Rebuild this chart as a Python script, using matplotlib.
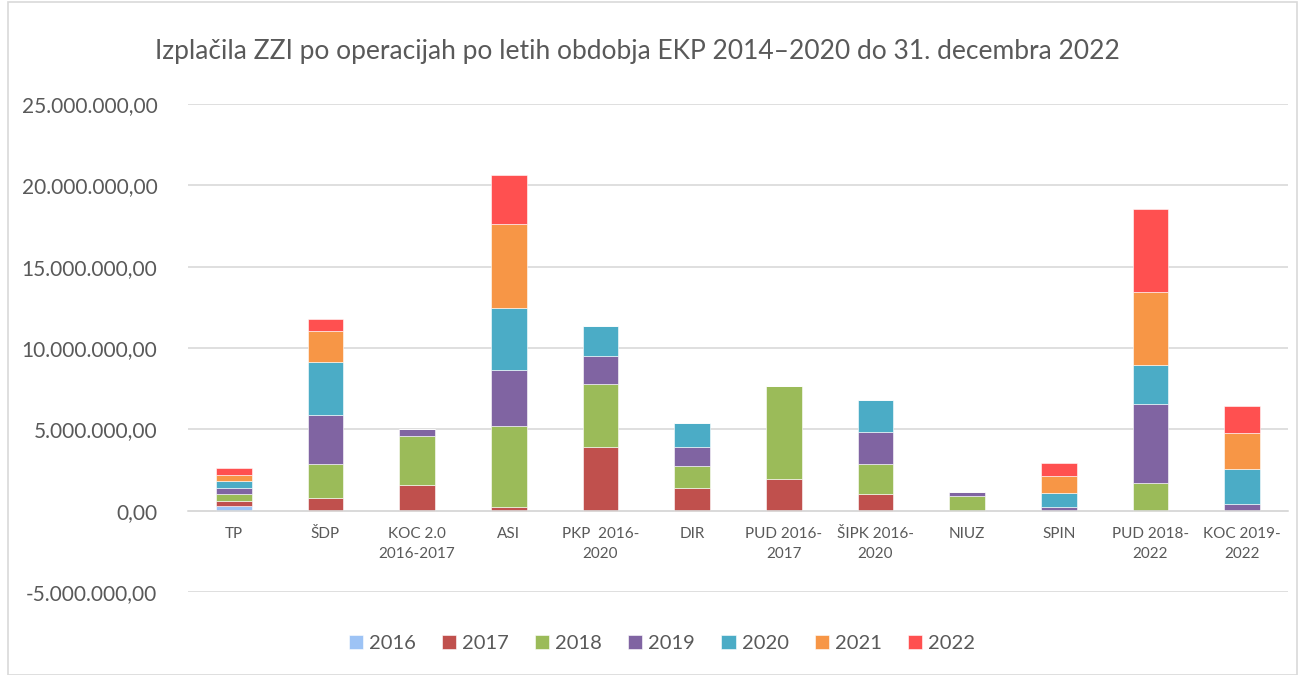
import matplotlib.pyplot as plt
from matplotlib.ticker import FuncFormatter
from matplotlib.patches import Rectangle
import numpy as np

plt.rcParams['font.family'] = ['Lato', 'DejaVu Sans']

categories = ["TP", "ŠDP", "KOC 2.0\n2016-2017", "ASI", "PKP  2016-\n2020", "DIR",
              "PUD 2016-\n2017", "ŠIPK 2016-\n2020", "NIUZ", "SPIN", "PUD 2018-\n2022",
              "KOC 2019-\n2022"]
years = ["2016", "2017", "2018", "2019", "2020", "2021", "2022"]

v2016 = [300000, 0, 0, 0, 0, 0, 0, 0, 0, 0, 0, 0]
v2017 = [300000, 800000, 1550000, 200000, 3900000, 1400000, 1970000, 1050000, 0, 0, 0, 0]
v2018 = [400000, 2050000, 3050000, 5030000, 3890000, 1370000, 5720000, 1840000, 880000, 0, 1700000, 0]
v2019 = [400000, 3000000, 400000, 3420000, 1700000, 1170000, 0, 1970000, 250000, 200000, 4860000, 410000]
v2020 = [400000, 3300000, 0, 3790000, 1890000, 1470000, 0, 1970000, 0, 860000, 2420000, 2130000]
v2021 = [400000, 1900000, 0, 5190000, 0, 0, 0, 0, 0, 1050000, 4450000, 2240000]
v2022 = [420000, 700000, 0, 2990000, 0, 0, 0, 0, 0, 820000, 5120000, 1680000]

series = [v2016, v2017, v2018, v2019, v2020, v2021, v2022]
colors = ["#9DC3F5", "#C0504D", "#9BBB59", "#8064A2", "#4BACC6", "#F79646", "#FF5050"]

fig = plt.figure(figsize=(12.98, 6.75), dpi=100)
ax = fig.add_axes([0.1448, 0.123, 0.8475, 0.723])

x = np.arange(len(categories))
bottom = np.zeros(len(categories))
for yr, vals, c in zip(years, series, colors):
    ax.bar(x, vals, 0.39, bottom=bottom, color=c, label=yr, edgecolor="white", linewidth=0.4)
    bottom += np.array(vals)

ax.set_ylim(-5000000, 25000000)
ax.set_xlim(-0.5, len(categories) - 0.5)
ax.set_yticks(np.arange(-5000000, 25000001, 5000000))

def fmt(v, pos):
    s = f"{abs(v):,.2f}".replace(",", "X").replace(".", ",").replace("X", ".")
    return ("-" if v < 0 else "") + s

ax.yaxis.set_major_formatter(FuncFormatter(fmt))
ax.grid(axis="y", color="#D9D9D9", linewidth=1.2)
ax.set_axisbelow(True)
for s in ["top", "right", "left"]:
    ax.spines[s].set_visible(False)
ax.spines["bottom"].set_position(("data", 0))
ax.spines["bottom"].set_color("#D9D9D9")
ax.spines["bottom"].set_linewidth(1.2)
ax.set_xticks(x)
ax.set_xticklabels(categories, fontsize=11, color="#595959", linespacing=1.5)
ax.tick_params(axis="x", length=0, pad=12)
ax.tick_params(axis="y", length=0, labelsize=15, labelcolor="#595959", pad=22)

fig.text(0.491, 0.923, "Izplačila ZZI po operacijah po letih obdobja EKP 2014\u20132020 do 31. decembra 2022",
         ha="center", va="center", fontsize=19, color="#595959")

ax.legend(loc="center", bbox_to_anchor=(0.51, 0.047), bbox_transform=fig.transFigure,
          ncol=7, frameon=False, fontsize=14.5, labelcolor="#595959",
          handlelength=0.7, handleheight=0.7, handletextpad=0.3, columnspacing=1.3)

fig.patches.append(Rectangle((0.006, 0.0), 0.993, 0.997, transform=fig.transFigure,
                             fill=False, edgecolor="#D9D9D9", linewidth=1.2))

fig.savefig("out.png", dpi=100)
